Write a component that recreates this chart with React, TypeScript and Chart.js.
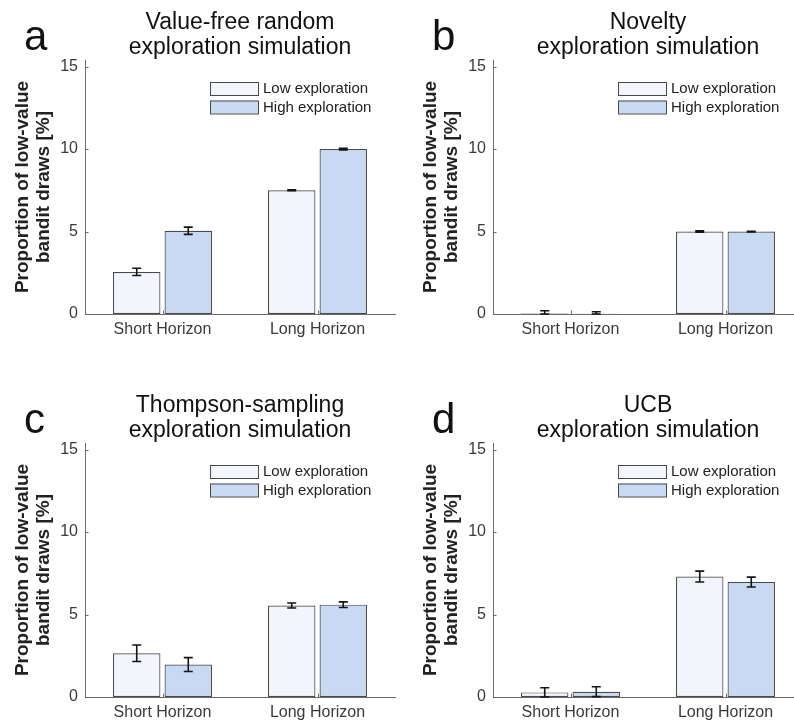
import React, { useEffect, useRef } from 'react';
import { Chart, registerables } from 'chart.js';

Chart.register(...registerables);

const categories = ['Short Horizon', 'Long Horizon'];
const seriesLabels = ['Low exploration', 'High exploration'];
const yTicks = [0, 5, 10, 15];
const yMax = 15.4;

const titleA = ['Value-free random', 'exploration simulation'];
const lowA = [2.55, 7.5];
const highA = [5.05, 10.0];
const lowErrA = [0.22, 0.03];
const highErrA = [0.22, 0.05];

const titleB = ['Novelty', 'exploration simulation'];
const lowB = [0.03, 5.0];
const highB = [0.02, 5.0];
const lowErrB = [0.17, 0.04];
const highErrB = [0.12, 0.02];

const titleC = ['Thompson-sampling', 'exploration simulation'];
const lowC = [2.65, 5.55];
const highC = [1.97, 5.6];
const lowErrC = [0.5, 0.15];
const highErrC = [0.42, 0.17];

const titleD = ['UCB', 'exploration simulation'];
const lowD = [0.28, 7.3];
const highD = [0.32, 6.97];
const lowErrD = [0.28, 0.33];
const highErrD = [0.3, 0.3];

const yTitle = ['Proportion of low-value', 'bandit draws [%]'];

const FONT = '"Liberation Sans", Arial, Helvetica, sans-serif';
const LOW_FILL = '#f2f6fc';
const HIGH_FILL = '#c8daf3';
const BAR_BORDER = '#4a4a4a';
const AXIS = '#6a6a6a';
const TEXT = '#222222';
const TICK_TEXT = '#3a3a3a';

type PanelProps = {
  letter: string;
  title: string[];
  low: number[];
  high: number[];
  lowErr: number[];
  highErr: number[];
  left: number;
  top: number;
};

function Panel({ letter, title, low, high, lowErr, highErr, left, top }: PanelProps) {
  const ref = useRef<HTMLCanvasElement | null>(null);

  useEffect(() => {
    if (!ref.current) return;
    const errs = [lowErr, highErr];

    const overlay = {
      id: 'overlay',
      afterDatasetsDraw(chart: any) {
        const ctx = chart.ctx;
        const yScale = chart.scales.y;
        ctx.save();
        ctx.strokeStyle = '#151515';
        ctx.lineWidth = 1.6;
        chart.data.datasets.forEach((ds: any, di: number) => {
          const meta = chart.getDatasetMeta(di);
          meta.data.forEach((bar: any, i: number) => {
            const v = ds.data[i];
            const e = errs[di][i];
            const x = bar.x;
            const y1 = yScale.getPixelForValue(v + e);
            const y2 = yScale.getPixelForValue(Math.max(0, v - e));
            const cap = 4.5;
            ctx.beginPath();
            ctx.moveTo(x, y1);
            ctx.lineTo(x, y2);
            ctx.moveTo(x - cap, y1);
            ctx.lineTo(x + cap, y1);
            ctx.moveTo(x - cap, y2);
            ctx.lineTo(x + cap, y2);
            ctx.stroke();
          });
        });
        ctx.restore();
      },
      afterDraw(chart: any) {
        const ctx = chart.ctx;
        const area = chart.chartArea;
        const xScale = chart.scales.x;
        const yScale = chart.scales.y;
        ctx.save();

        // inner tick marks
        ctx.strokeStyle = AXIS;
        ctx.lineWidth = 1;
        ctx.beginPath();
        yTicks.forEach((t) => {
          const y = Math.round(yScale.getPixelForValue(t)) + 0.5;
          ctx.moveTo(area.left, y);
          ctx.lineTo(area.left + 3.5, y);
        });
        categories.forEach((_, i) => {
          const x = Math.round(xScale.getPixelForValue(i)) + 0.5;
          ctx.moveTo(x, area.bottom);
          ctx.lineTo(x, area.bottom - 3.5);
        });
        ctx.stroke();

        // panel letter
        ctx.fillStyle = '#111111';
        ctx.font = `42px ${FONT}`;
        ctx.textAlign = 'left';
        ctx.textBaseline = 'alphabetic';
        ctx.fillText(letter, 24, 50);

        // title
        const cx = area.left + 155;
        ctx.font = `23px ${FONT}`;
        ctx.textAlign = 'center';
        ctx.fillStyle = '#111111';
        ctx.fillText(title[0], cx, 29);
        ctx.fillText(title[1], cx, 54);

        // y axis title
        ctx.font = `bold 19px ${FONT}`;
        ctx.fillStyle = TEXT;
        const cy = (area.top + area.bottom) / 2;
        [28, 49].forEach((bx, li) => {
          ctx.save();
          ctx.translate(bx, cy);
          ctx.rotate(-Math.PI / 2);
          ctx.textAlign = 'center';
          ctx.textBaseline = 'alphabetic';
          ctx.fillText(yTitle[li], 0, 0);
          ctx.restore();
        });

        // legend
        const lx = area.left + 125;
        const ly = area.top + 22;
        ctx.font = `15px ${FONT}`;
        ctx.textAlign = 'left';
        ctx.textBaseline = 'middle';
        chart.data.datasets.forEach((ds: any, di: number) => {
          const by = ly + di * 18.5;
          ctx.fillStyle = ds.backgroundColor;
          ctx.fillRect(lx, by, 48, 13);
          ctx.strokeStyle = BAR_BORDER;
          ctx.lineWidth = 1;
          ctx.strokeRect(lx + 0.5, by + 0.5, 48, 13);
          ctx.fillStyle = TEXT;
          ctx.fillText(ds.label, lx + 53, by + 7);
        });

        ctx.restore();
      },
    };

    const chart = new Chart(ref.current, {
      type: 'bar',
      data: {
        labels: categories,
        datasets: [
          {
            label: seriesLabels[0],
            data: low,
            backgroundColor: LOW_FILL,
            borderColor: BAR_BORDER,
            borderWidth: 1.2,
            borderSkipped: false,
            categoryPercentage: 0.665,
            barPercentage: 0.92,
          },
          {
            label: seriesLabels[1],
            data: high,
            backgroundColor: HIGH_FILL,
            borderColor: BAR_BORDER,
            borderWidth: 1.2,
            borderSkipped: false,
            categoryPercentage: 0.665,
            barPercentage: 0.92,
          },
        ],
      },
      options: {
        responsive: false,
        animation: false,
        layout: { padding: { top: 60, right: 2, left: 0, bottom: 0 } },
        plugins: {
          legend: { display: false },
          title: { display: false },
          tooltip: { enabled: false },
        },
        scales: {
          x: {
            grid: { display: false, drawTicks: false },
            border: { display: true, color: AXIS, width: 1 },
            ticks: {
              color: TICK_TEXT,
              font: { family: FONT, size: 16 },
              padding: 6,
              maxRotation: 0,
            },
            afterFit: (scale: any) => {
              scale.height = 48;
            },
          },
          y: {
            min: 0,
            max: yMax,
            grid: { display: false, drawTicks: false },
            border: { display: true, color: AXIS, width: 1 },
            ticks: {
              color: TICK_TEXT,
              font: { family: FONT, size: 16 },
              padding: 7,
            },
            afterBuildTicks: (scale: any) => {
              scale.ticks = yTicks.map((v) => ({ value: v }));
            },
            afterFit: (scale: any) => {
              scale.width = 85;
            },
          },
        },
      },
      plugins: [overlay],
    } as any);

    return () => chart.destroy();
  }, []);

  return (
    <canvas
      ref={ref}
      width={397}
      height={362}
      style={{ position: 'absolute', left, top, width: 397, height: 362, display: 'block' }}
    />
  );
}

export default function App() {
  return (
    <div
      style={{
        position: 'fixed',
        left: 0,
        top: 0,
        width: 794,
        height: 725,
        overflow: 'hidden',
        background: '#ffffff',
      }}
    >
      <Panel letter="a" title={titleA} low={lowA} high={highA} lowErr={lowErrA} highErr={highErrA} left={0} top={0} />
      <Panel letter="b" title={titleB} low={lowB} high={highB} lowErr={lowErrB} highErr={highErrB} left={408} top={0} />
      <Panel letter="c" title={titleC} low={lowC} high={highC} lowErr={lowErrC} highErr={highErrC} left={0} top={383} />
      <Panel letter="d" title={titleD} low={lowD} high={highD} lowErr={lowErrD} highErr={highErrD} left={408} top={383} />
    </div>
  );
}
